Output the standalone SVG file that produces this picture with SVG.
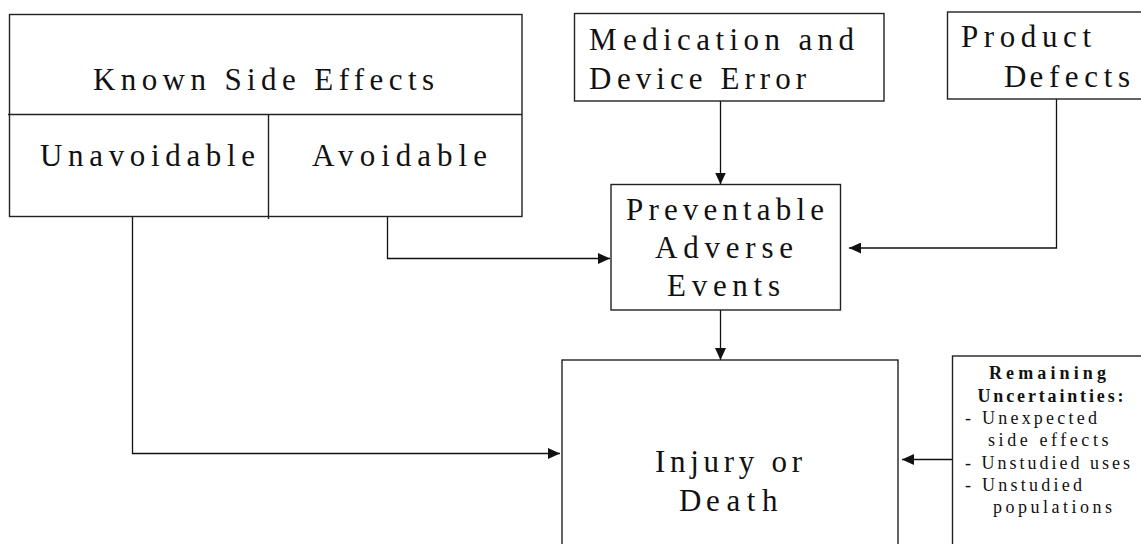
<svg xmlns="http://www.w3.org/2000/svg" width="1141" height="544" viewBox="0 0 1141 544">
  <style>
    .box { fill: #ffffff; stroke: #222222; stroke-width: 1.4; }
    .div { fill: none; stroke: #222222; stroke-width: 1.4; }
    .conn { fill: none; stroke: #111111; stroke-width: 1.3; }
    .t { font-family: "Liberation Serif", "Times New Roman", serif; font-size: 31px; fill: #111111; }
    .s { font-family: "Liberation Serif", "Times New Roman", serif; font-size: 18px; fill: #111111; }
    .b { font-weight: bold; }
  </style>
  <defs>
    <marker id="arrow" markerUnits="userSpaceOnUse" markerWidth="12" markerHeight="11" refX="12" refY="5.5" orient="auto">
      <path d="M0,0 L12,5.5 L0,11 Z" fill="#111111"/>
    </marker>
  </defs>
  <rect width="1141" height="544" fill="#ffffff"/>

  <g id="connectors">
    <polyline class="conn" points="132.5,216.5 132.5,453.5 560,453.5" marker-end="url(#arrow)"/>
    <polyline class="conn" points="387.5,216.5 387.5,258.5 610,258.5" marker-end="url(#arrow)"/>
    <line class="conn" x1="720.5" y1="101" x2="720.5" y2="184.5" marker-end="url(#arrow)"/>
    <polyline class="conn" points="1056.5,99 1056.5,248 849,248" marker-end="url(#arrow)"/>
    <line class="conn" x1="720.5" y1="310" x2="720.5" y2="360" marker-end="url(#arrow)"/>
    <line class="conn" x1="952.5" y1="459.5" x2="902" y2="459.5" marker-end="url(#arrow)"/>
  </g>

  <g id="known-side-effects">
    <rect class="box" x="9.5" y="14.5" width="512.5" height="202"/>
    <line class="div" x1="8" y1="114.5" x2="522" y2="114.5"/>
    <line class="div" x1="268.5" y1="114.5" x2="268.5" y2="219"/>
    <text class="t" x="93" y="89.5" textLength="341" lengthAdjust="spacing">Known Side Effects</text>
    <text class="t" x="40" y="166" textLength="215" lengthAdjust="spacing">Unavoidable</text>
    <text class="t" x="312" y="166" textLength="175" lengthAdjust="spacing">Avoidable</text>
  </g>

  <g id="medication-device-error">
    <rect class="box" x="574.5" y="13.5" width="309.5" height="87.5"/>
    <text class="t" y="50"><tspan x="589">M</tspan><tspan x="623" textLength="231" lengthAdjust="spacing">edication and</tspan></text>
    <text class="t" y="88.5"><tspan x="589">D</tspan><tspan x="617" textLength="189" lengthAdjust="spacing">evice Error</tspan></text>
  </g>

  <g id="product-defects">
    <rect class="box" x="947.5" y="12" width="200" height="87"/>
    <text class="t" x="961" y="46.5" textLength="130" lengthAdjust="spacing">Product</text>
    <text class="t" y="86.5"><tspan x="1004">D</tspan><tspan x="1029.5" textLength="100.5" lengthAdjust="spacing">efects</tspan></text>
  </g>

  <g id="preventable-adverse-events">
    <rect class="box" x="611" y="184.5" width="229.5" height="125.5"/>
    <text class="t" x="626" y="220" textLength="198" lengthAdjust="spacing">Preventable</text>
    <text class="t" x="655" y="258" textLength="138" lengthAdjust="spacing">Adverse</text>
    <text class="t" x="667" y="296" textLength="113" lengthAdjust="spacing">Events</text>
  </g>

  <g id="injury-or-death">
    <rect class="box" x="562" y="360" width="336" height="200"/>
    <text class="t" x="655" y="472" textLength="147" lengthAdjust="spacing">Injury or</text>
    <text class="t" y="511"><tspan x="679">D</tspan><tspan x="706" textLength="71.5" lengthAdjust="spacing">eath</tspan></text>
  </g>

  <g id="remaining-uncertainties">
    <rect class="box" x="952.5" y="356" width="200" height="204"/>
    <text class="s b" x="989" y="379" textLength="117" lengthAdjust="spacing">Remaining</text>
    <text class="s b" x="977.5" y="402" textLength="146" lengthAdjust="spacing">Uncertainties:</text>
    <text class="s" x="965" y="424" textLength="132" lengthAdjust="spacing">- Unexpected</text>
    <text class="s" x="988" y="446" textLength="120.5" lengthAdjust="spacing">side effects</text>
    <text class="s" x="965" y="469" textLength="165" lengthAdjust="spacing">- Unstudied uses</text>
    <text class="s" x="965" y="491" textLength="117" lengthAdjust="spacing">- Unstudied</text>
    <text class="s" x="993" y="513" textLength="119" lengthAdjust="spacing">populations</text>
  </g>
</svg>
